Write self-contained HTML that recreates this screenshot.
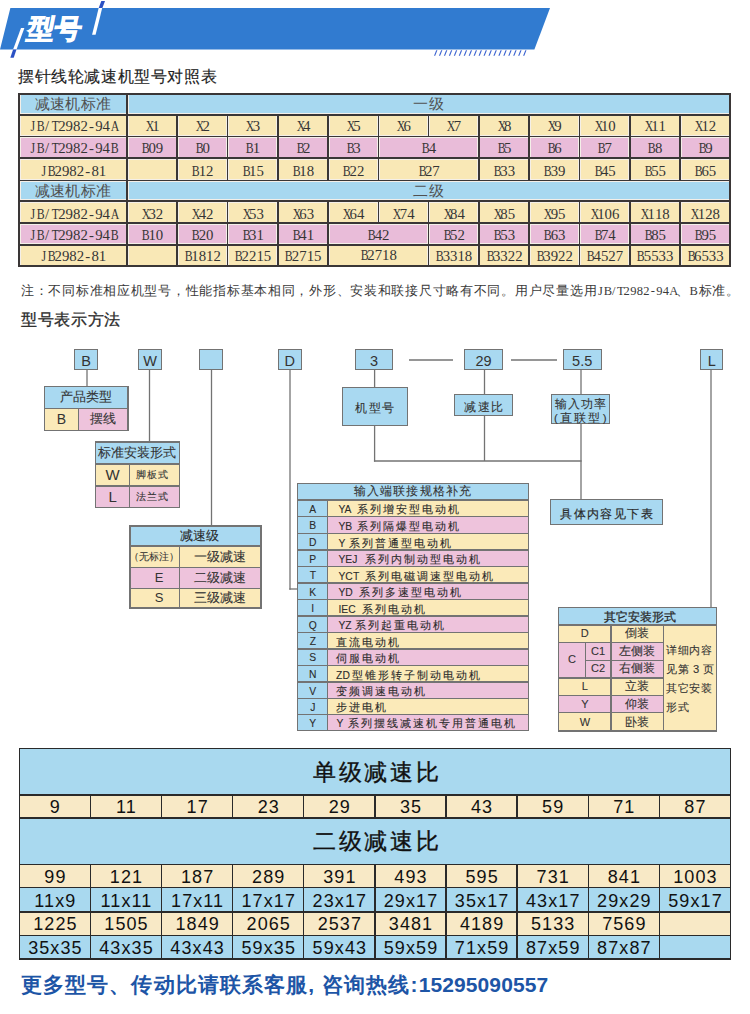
<!DOCTYPE html>
<html><head><meta charset="utf-8"><style>
html,body{margin:0;padding:0;background:#fff}
body{width:750px;height:1014px;position:relative;overflow:hidden;font-family:"Liberation Sans",sans-serif}
.t{position:absolute;text-align:center;white-space:nowrap}
.t i{font-style:normal;display:inline-block;width:7.4px;text-align:center}
.t i.w{transform:scaleX(.8)}
</style></head><body>
<svg style="position:absolute;left:0;top:0" width="750" height="70" viewBox="0 0 750 70">
<polygon points="10.4,8 550,8 534.4,49.6 0,49.6" fill="#317bd0"/>
<polygon points="21,28 24.4,28 16.5,49.6 13.1,49.6" fill="#ffffff"/>
<polygon points="13.1,49.6 16.5,49.6 13.7,57.7 10.3,57.7" fill="#2b51c4"/>
<polygon points="101.3,1 105,1 102.4,8 98.7,8" fill="#2b51c4"/>
<polygon points="98.7,8 102.2,8 95.6,34.7 92.1,34.7" fill="#ffffff"/>

<polygon points="436.20,50.3 437.40,50.3 435.20,55.8 434.00,55.8" fill="#3a62d0"/><polygon points="441.15,50.3 442.35,50.3 440.15,55.8 438.95,55.8" fill="#3a62d0"/><polygon points="446.10,50.3 447.30,50.3 445.10,55.8 443.90,55.8" fill="#3a62d0"/><polygon points="451.05,50.3 452.25,50.3 450.05,55.8 448.85,55.8" fill="#3a62d0"/><polygon points="456.00,50.3 457.20,50.3 455.00,55.8 453.80,55.8" fill="#3a62d0"/><polygon points="460.95,50.3 462.15,50.3 459.95,55.8 458.75,55.8" fill="#3a62d0"/><polygon points="465.90,50.3 467.10,50.3 464.90,55.8 463.70,55.8" fill="#3a62d0"/><polygon points="470.85,50.3 472.05,50.3 469.85,55.8 468.65,55.8" fill="#3a62d0"/><polygon points="475.80,50.3 477.00,50.3 474.80,55.8 473.60,55.8" fill="#3a62d0"/><polygon points="480.75,50.3 481.95,50.3 479.75,55.8 478.55,55.8" fill="#3a62d0"/><polygon points="485.70,50.3 486.90,50.3 484.70,55.8 483.50,55.8" fill="#3a62d0"/><polygon points="490.65,50.3 491.85,50.3 489.65,55.8 488.45,55.8" fill="#3a62d0"/><polygon points="495.60,50.3 496.80,50.3 494.60,55.8 493.40,55.8" fill="#3a62d0"/><polygon points="500.55,50.3 501.75,50.3 499.55,55.8 498.35,55.8" fill="#3a62d0"/><polygon points="505.50,50.3 506.70,50.3 504.50,55.8 503.30,55.8" fill="#3a62d0"/><polygon points="510.45,50.3 511.65,50.3 509.45,55.8 508.25,55.8" fill="#3a62d0"/><polygon points="515.40,50.3 516.60,50.3 514.40,55.8 513.20,55.8" fill="#3a62d0"/><polygon points="520.35,50.3 521.55,50.3 519.35,55.8 518.15,55.8" fill="#3a62d0"/><polygon points="525.30,50.3 526.50,50.3 524.30,55.8 523.10,55.8" fill="#3a62d0"/>
</svg>
<div class="t" style="left:24px;top:12px;height:34px;line-height:34px;font-size:27px;font-weight:bold;color:#fff;transform:skewX(-11deg);transform-origin:0 100%;-webkit-text-stroke:1px #fff">型号</div>
<div class="t" style="left:18px;top:64px;height:24px;line-height:24px;font-size:16.4px;color:#222;-webkit-text-stroke:0.15px #222;letter-spacing:0.6px">摆针线轮减速机型号对照表</div>
<div style="position:absolute;left:18.00px;top:92.90px;width:713.30px;height:174.30px;background:#3a3636"></div>
<div style="position:absolute;left:19.80px;top:94.70px;width:106.40px;height:19.30px;background:#f4efe8"></div>
<div style="position:absolute;left:20.50px;top:95.40px;width:105.00px;height:17.90px;background:#a7d8f0"></div>
<div class="t" style="left:19.00px;top:94.40px;width:108.00px;height:20.90px;line-height:20.90px;font-size:14.5px;color:#505050;letter-spacing:0.3px">减速机标准</div>
<div style="position:absolute;left:127.80px;top:94.70px;width:601.70px;height:19.30px;background:#f4efe8"></div>
<div style="position:absolute;left:128.50px;top:95.40px;width:600.30px;height:17.90px;background:#a7d8f0"></div>
<div class="t" style="left:127.00px;top:94.40px;width:603.30px;height:20.90px;line-height:20.90px;font-size:14.5px;color:#505050;letter-spacing:0.3px">一级</div>
<div style="position:absolute;left:19.80px;top:115.60px;width:106.40px;height:20.00px;background:#f4efe8"></div>
<div style="position:absolute;left:20.50px;top:116.30px;width:105.00px;height:18.60px;background:#f9e8b6"></div>
<div class="t" style="left:19.00px;top:116.30px;width:108.00px;height:21.60px;line-height:21.60px;font-family:'Liberation Serif',serif;font-size:14.8px;color:#353535"><i class=w>J</i><i class=w>B</i><i>/</i><i class=w>T</i><i>2</i><i>9</i><i>8</i><i>2</i><i>-</i><i>9</i><i>4</i><i class=w>A</i></div>
<div style="position:absolute;left:127.80px;top:115.60px;width:48.67px;height:20.00px;background:#f4efe8"></div>
<div style="position:absolute;left:128.50px;top:116.30px;width:47.28px;height:18.60px;background:#f9e8b6"></div>
<div class="t" style="left:127.00px;top:116.30px;width:50.28px;height:21.60px;line-height:21.60px;font-family:'Liberation Serif',serif;font-size:14.8px;color:#353535"><i class=w>X</i><i>1</i></div>
<div style="position:absolute;left:178.08px;top:115.60px;width:48.67px;height:20.00px;background:#f4efe8"></div>
<div style="position:absolute;left:178.78px;top:116.30px;width:47.28px;height:18.60px;background:#f9e8b6"></div>
<div class="t" style="left:177.28px;top:116.30px;width:50.28px;height:21.60px;line-height:21.60px;font-family:'Liberation Serif',serif;font-size:14.8px;color:#353535"><i class=w>X</i><i>2</i></div>
<div style="position:absolute;left:228.35px;top:115.60px;width:48.67px;height:20.00px;background:#f4efe8"></div>
<div style="position:absolute;left:229.05px;top:116.30px;width:47.27px;height:18.60px;background:#f9e8b6"></div>
<div class="t" style="left:227.55px;top:116.30px;width:50.27px;height:21.60px;line-height:21.60px;font-family:'Liberation Serif',serif;font-size:14.8px;color:#353535"><i class=w>X</i><i>3</i></div>
<div style="position:absolute;left:278.62px;top:115.60px;width:48.68px;height:20.00px;background:#f4efe8"></div>
<div style="position:absolute;left:279.32px;top:116.30px;width:47.28px;height:18.60px;background:#f9e8b6"></div>
<div class="t" style="left:277.82px;top:116.30px;width:50.28px;height:21.60px;line-height:21.60px;font-family:'Liberation Serif',serif;font-size:14.8px;color:#353535"><i class=w>X</i><i>4</i></div>
<div style="position:absolute;left:328.90px;top:115.60px;width:48.67px;height:20.00px;background:#f4efe8"></div>
<div style="position:absolute;left:329.60px;top:116.30px;width:47.27px;height:18.60px;background:#f9e8b6"></div>
<div class="t" style="left:328.10px;top:116.30px;width:50.27px;height:21.60px;line-height:21.60px;font-family:'Liberation Serif',serif;font-size:14.8px;color:#353535"><i class=w>X</i><i>5</i></div>
<div style="position:absolute;left:379.18px;top:115.60px;width:48.67px;height:20.00px;background:#f4efe8"></div>
<div style="position:absolute;left:379.88px;top:116.30px;width:47.27px;height:18.60px;background:#f9e8b6"></div>
<div class="t" style="left:378.38px;top:116.30px;width:50.27px;height:21.60px;line-height:21.60px;font-family:'Liberation Serif',serif;font-size:14.8px;color:#353535"><i class=w>X</i><i>6</i></div>
<div style="position:absolute;left:429.45px;top:115.60px;width:48.68px;height:20.00px;background:#f4efe8"></div>
<div style="position:absolute;left:430.15px;top:116.30px;width:47.28px;height:18.60px;background:#f9e8b6"></div>
<div class="t" style="left:428.65px;top:116.30px;width:50.28px;height:21.60px;line-height:21.60px;font-family:'Liberation Serif',serif;font-size:14.8px;color:#353535"><i class=w>X</i><i>7</i></div>
<div style="position:absolute;left:479.73px;top:115.60px;width:48.68px;height:20.00px;background:#f4efe8"></div>
<div style="position:absolute;left:480.43px;top:116.30px;width:47.28px;height:18.60px;background:#f9e8b6"></div>
<div class="t" style="left:478.93px;top:116.30px;width:50.28px;height:21.60px;line-height:21.60px;font-family:'Liberation Serif',serif;font-size:14.8px;color:#353535"><i class=w>X</i><i>8</i></div>
<div style="position:absolute;left:530.00px;top:115.60px;width:48.67px;height:20.00px;background:#f4efe8"></div>
<div style="position:absolute;left:530.70px;top:116.30px;width:47.27px;height:18.60px;background:#f9e8b6"></div>
<div class="t" style="left:529.20px;top:116.30px;width:50.27px;height:21.60px;line-height:21.60px;font-family:'Liberation Serif',serif;font-size:14.8px;color:#353535"><i class=w>X</i><i>9</i></div>
<div style="position:absolute;left:580.27px;top:115.60px;width:48.68px;height:20.00px;background:#f4efe8"></div>
<div style="position:absolute;left:580.97px;top:116.30px;width:47.28px;height:18.60px;background:#f9e8b6"></div>
<div class="t" style="left:579.47px;top:116.30px;width:50.28px;height:21.60px;line-height:21.60px;font-family:'Liberation Serif',serif;font-size:14.8px;color:#353535"><i class=w>X</i><i>1</i><i>0</i></div>
<div style="position:absolute;left:630.55px;top:115.60px;width:48.68px;height:20.00px;background:#f4efe8"></div>
<div style="position:absolute;left:631.25px;top:116.30px;width:47.27px;height:18.60px;background:#f9e8b6"></div>
<div class="t" style="left:629.75px;top:116.30px;width:50.27px;height:21.60px;line-height:21.60px;font-family:'Liberation Serif',serif;font-size:14.8px;color:#353535"><i class=w>X</i><i>1</i><i>1</i></div>
<div style="position:absolute;left:680.82px;top:115.60px;width:48.68px;height:20.00px;background:#f4efe8"></div>
<div style="position:absolute;left:681.52px;top:116.30px;width:47.27px;height:18.60px;background:#f9e8b6"></div>
<div class="t" style="left:680.02px;top:116.30px;width:50.27px;height:21.60px;line-height:21.60px;font-family:'Liberation Serif',serif;font-size:14.8px;color:#353535"><i class=w>X</i><i>1</i><i>2</i></div>
<div style="position:absolute;left:19.80px;top:137.20px;width:106.40px;height:20.20px;background:#f4efe8"></div>
<div style="position:absolute;left:20.50px;top:137.90px;width:105.00px;height:18.80px;background:#e9bcd9"></div>
<div class="t" style="left:19.00px;top:137.90px;width:108.00px;height:21.80px;line-height:21.80px;font-family:'Liberation Serif',serif;font-size:14.8px;color:#353535"><i class=w>J</i><i class=w>B</i><i>/</i><i class=w>T</i><i>2</i><i>9</i><i>8</i><i>2</i><i>-</i><i>9</i><i>4</i><i class=w>B</i></div>
<div style="position:absolute;left:127.80px;top:137.20px;width:48.67px;height:20.20px;background:#f4efe8"></div>
<div style="position:absolute;left:128.50px;top:137.90px;width:47.28px;height:18.80px;background:#e9bcd9"></div>
<div class="t" style="left:127.00px;top:137.90px;width:50.28px;height:21.80px;line-height:21.80px;font-family:'Liberation Serif',serif;font-size:14.8px;color:#353535"><i class=w>B</i><i>0</i><i>9</i></div>
<div style="position:absolute;left:178.08px;top:137.20px;width:48.67px;height:20.20px;background:#f4efe8"></div>
<div style="position:absolute;left:178.78px;top:137.90px;width:47.28px;height:18.80px;background:#e9bcd9"></div>
<div class="t" style="left:177.28px;top:137.90px;width:50.28px;height:21.80px;line-height:21.80px;font-family:'Liberation Serif',serif;font-size:14.8px;color:#353535"><i class=w>B</i><i>0</i></div>
<div style="position:absolute;left:228.35px;top:137.20px;width:48.67px;height:20.20px;background:#f4efe8"></div>
<div style="position:absolute;left:229.05px;top:137.90px;width:47.27px;height:18.80px;background:#e9bcd9"></div>
<div class="t" style="left:227.55px;top:137.90px;width:50.27px;height:21.80px;line-height:21.80px;font-family:'Liberation Serif',serif;font-size:14.8px;color:#353535"><i class=w>B</i><i>1</i></div>
<div style="position:absolute;left:278.62px;top:137.20px;width:48.68px;height:20.20px;background:#f4efe8"></div>
<div style="position:absolute;left:279.32px;top:137.90px;width:47.28px;height:18.80px;background:#e9bcd9"></div>
<div class="t" style="left:277.82px;top:137.90px;width:50.28px;height:21.80px;line-height:21.80px;font-family:'Liberation Serif',serif;font-size:14.8px;color:#353535"><i class=w>B</i><i>2</i></div>
<div style="position:absolute;left:328.90px;top:137.20px;width:48.67px;height:20.20px;background:#f4efe8"></div>
<div style="position:absolute;left:329.60px;top:137.90px;width:47.27px;height:18.80px;background:#e9bcd9"></div>
<div class="t" style="left:328.10px;top:137.90px;width:50.27px;height:21.80px;line-height:21.80px;font-family:'Liberation Serif',serif;font-size:14.8px;color:#353535"><i class=w>B</i><i>3</i></div>
<div style="position:absolute;left:379.18px;top:137.20px;width:98.95px;height:20.20px;background:#f4efe8"></div>
<div style="position:absolute;left:379.88px;top:137.90px;width:97.55px;height:18.80px;background:#e9bcd9"></div>
<div class="t" style="left:378.38px;top:137.90px;width:100.55px;height:21.80px;line-height:21.80px;font-family:'Liberation Serif',serif;font-size:14.8px;color:#353535"><i class=w>B</i><i>4</i></div>
<div style="position:absolute;left:479.73px;top:137.20px;width:48.68px;height:20.20px;background:#f4efe8"></div>
<div style="position:absolute;left:480.43px;top:137.90px;width:47.28px;height:18.80px;background:#e9bcd9"></div>
<div class="t" style="left:478.93px;top:137.90px;width:50.28px;height:21.80px;line-height:21.80px;font-family:'Liberation Serif',serif;font-size:14.8px;color:#353535"><i class=w>B</i><i>5</i></div>
<div style="position:absolute;left:530.00px;top:137.20px;width:48.67px;height:20.20px;background:#f4efe8"></div>
<div style="position:absolute;left:530.70px;top:137.90px;width:47.27px;height:18.80px;background:#e9bcd9"></div>
<div class="t" style="left:529.20px;top:137.90px;width:50.27px;height:21.80px;line-height:21.80px;font-family:'Liberation Serif',serif;font-size:14.8px;color:#353535"><i class=w>B</i><i>6</i></div>
<div style="position:absolute;left:580.27px;top:137.20px;width:48.68px;height:20.20px;background:#f4efe8"></div>
<div style="position:absolute;left:580.97px;top:137.90px;width:47.28px;height:18.80px;background:#e9bcd9"></div>
<div class="t" style="left:579.47px;top:137.90px;width:50.28px;height:21.80px;line-height:21.80px;font-family:'Liberation Serif',serif;font-size:14.8px;color:#353535"><i class=w>B</i><i>7</i></div>
<div style="position:absolute;left:630.55px;top:137.20px;width:48.68px;height:20.20px;background:#f4efe8"></div>
<div style="position:absolute;left:631.25px;top:137.90px;width:47.27px;height:18.80px;background:#e9bcd9"></div>
<div class="t" style="left:629.75px;top:137.90px;width:50.27px;height:21.80px;line-height:21.80px;font-family:'Liberation Serif',serif;font-size:14.8px;color:#353535"><i class=w>B</i><i>8</i></div>
<div style="position:absolute;left:680.82px;top:137.20px;width:48.68px;height:20.20px;background:#f4efe8"></div>
<div style="position:absolute;left:681.52px;top:137.90px;width:47.27px;height:18.80px;background:#e9bcd9"></div>
<div class="t" style="left:680.02px;top:137.90px;width:50.27px;height:21.80px;line-height:21.80px;font-family:'Liberation Serif',serif;font-size:14.8px;color:#353535"><i class=w>B</i><i>9</i></div>
<div style="position:absolute;left:19.80px;top:159.00px;width:106.40px;height:20.60px;background:#f4efe8"></div>
<div style="position:absolute;left:20.50px;top:159.70px;width:105.00px;height:19.20px;background:#f9e8b6"></div>
<div class="t" style="left:19.00px;top:159.70px;width:108.00px;height:22.20px;line-height:22.20px;font-family:'Liberation Serif',serif;font-size:14.8px;color:#353535"><i class=w>J</i><i class=w>B</i><i>2</i><i>9</i><i>8</i><i>2</i><i>-</i><i>8</i><i>1</i></div>
<div style="position:absolute;left:127.80px;top:159.00px;width:48.67px;height:20.60px;background:#f4efe8"></div>
<div style="position:absolute;left:128.50px;top:159.70px;width:47.28px;height:19.20px;background:#f9e8b6"></div>
<div style="position:absolute;left:178.08px;top:159.00px;width:48.67px;height:20.60px;background:#f4efe8"></div>
<div style="position:absolute;left:178.78px;top:159.70px;width:47.28px;height:19.20px;background:#f9e8b6"></div>
<div class="t" style="left:177.28px;top:159.70px;width:50.28px;height:22.20px;line-height:22.20px;font-family:'Liberation Serif',serif;font-size:14.8px;color:#353535"><i class=w>B</i><i>1</i><i>2</i></div>
<div style="position:absolute;left:228.35px;top:159.00px;width:48.67px;height:20.60px;background:#f4efe8"></div>
<div style="position:absolute;left:229.05px;top:159.70px;width:47.27px;height:19.20px;background:#f9e8b6"></div>
<div class="t" style="left:227.55px;top:159.70px;width:50.27px;height:22.20px;line-height:22.20px;font-family:'Liberation Serif',serif;font-size:14.8px;color:#353535"><i class=w>B</i><i>1</i><i>5</i></div>
<div style="position:absolute;left:278.62px;top:159.00px;width:48.68px;height:20.60px;background:#f4efe8"></div>
<div style="position:absolute;left:279.32px;top:159.70px;width:47.28px;height:19.20px;background:#f9e8b6"></div>
<div class="t" style="left:277.82px;top:159.70px;width:50.28px;height:22.20px;line-height:22.20px;font-family:'Liberation Serif',serif;font-size:14.8px;color:#353535"><i class=w>B</i><i>1</i><i>8</i></div>
<div style="position:absolute;left:328.90px;top:159.00px;width:48.67px;height:20.60px;background:#f4efe8"></div>
<div style="position:absolute;left:329.60px;top:159.70px;width:47.27px;height:19.20px;background:#f9e8b6"></div>
<div class="t" style="left:328.10px;top:159.70px;width:50.27px;height:22.20px;line-height:22.20px;font-family:'Liberation Serif',serif;font-size:14.8px;color:#353535"><i class=w>B</i><i>2</i><i>2</i></div>
<div style="position:absolute;left:379.18px;top:159.00px;width:98.95px;height:20.60px;background:#f4efe8"></div>
<div style="position:absolute;left:379.88px;top:159.70px;width:97.55px;height:19.20px;background:#f9e8b6"></div>
<div class="t" style="left:378.38px;top:159.70px;width:100.55px;height:22.20px;line-height:22.20px;font-family:'Liberation Serif',serif;font-size:14.8px;color:#353535"><i class=w>B</i><i>2</i><i>7</i></div>
<div style="position:absolute;left:479.73px;top:159.00px;width:48.68px;height:20.60px;background:#f4efe8"></div>
<div style="position:absolute;left:480.43px;top:159.70px;width:47.28px;height:19.20px;background:#f9e8b6"></div>
<div class="t" style="left:478.93px;top:159.70px;width:50.28px;height:22.20px;line-height:22.20px;font-family:'Liberation Serif',serif;font-size:14.8px;color:#353535"><i class=w>B</i><i>3</i><i>3</i></div>
<div style="position:absolute;left:530.00px;top:159.00px;width:48.67px;height:20.60px;background:#f4efe8"></div>
<div style="position:absolute;left:530.70px;top:159.70px;width:47.27px;height:19.20px;background:#f9e8b6"></div>
<div class="t" style="left:529.20px;top:159.70px;width:50.27px;height:22.20px;line-height:22.20px;font-family:'Liberation Serif',serif;font-size:14.8px;color:#353535"><i class=w>B</i><i>3</i><i>9</i></div>
<div style="position:absolute;left:580.27px;top:159.00px;width:48.68px;height:20.60px;background:#f4efe8"></div>
<div style="position:absolute;left:580.97px;top:159.70px;width:47.28px;height:19.20px;background:#f9e8b6"></div>
<div class="t" style="left:579.47px;top:159.70px;width:50.28px;height:22.20px;line-height:22.20px;font-family:'Liberation Serif',serif;font-size:14.8px;color:#353535"><i class=w>B</i><i>4</i><i>5</i></div>
<div style="position:absolute;left:630.55px;top:159.00px;width:48.68px;height:20.60px;background:#f4efe8"></div>
<div style="position:absolute;left:631.25px;top:159.70px;width:47.27px;height:19.20px;background:#f9e8b6"></div>
<div class="t" style="left:629.75px;top:159.70px;width:50.27px;height:22.20px;line-height:22.20px;font-family:'Liberation Serif',serif;font-size:14.8px;color:#353535"><i class=w>B</i><i>5</i><i>5</i></div>
<div style="position:absolute;left:680.82px;top:159.00px;width:48.68px;height:20.60px;background:#f4efe8"></div>
<div style="position:absolute;left:681.52px;top:159.70px;width:47.27px;height:19.20px;background:#f9e8b6"></div>
<div class="t" style="left:680.02px;top:159.70px;width:50.27px;height:22.20px;line-height:22.20px;font-family:'Liberation Serif',serif;font-size:14.8px;color:#353535"><i class=w>B</i><i>6</i><i>5</i></div>
<div style="position:absolute;left:19.80px;top:181.20px;width:106.40px;height:19.00px;background:#f4efe8"></div>
<div style="position:absolute;left:20.50px;top:181.90px;width:105.00px;height:17.60px;background:#a7d8f0"></div>
<div class="t" style="left:19.00px;top:180.90px;width:108.00px;height:20.60px;line-height:20.60px;font-size:14.5px;color:#505050;letter-spacing:0.3px">减速机标准</div>
<div style="position:absolute;left:127.80px;top:181.20px;width:601.70px;height:19.00px;background:#f4efe8"></div>
<div style="position:absolute;left:128.50px;top:181.90px;width:600.30px;height:17.60px;background:#a7d8f0"></div>
<div class="t" style="left:127.00px;top:180.90px;width:603.30px;height:20.60px;line-height:20.60px;font-size:14.5px;color:#505050;letter-spacing:0.3px">二级</div>
<div style="position:absolute;left:19.80px;top:201.80px;width:106.40px;height:20.40px;background:#f4efe8"></div>
<div style="position:absolute;left:20.50px;top:202.50px;width:105.00px;height:19.00px;background:#f9e8b6"></div>
<div class="t" style="left:19.00px;top:202.50px;width:108.00px;height:22.00px;line-height:22.00px;font-family:'Liberation Serif',serif;font-size:14.8px;color:#353535"><i class=w>J</i><i class=w>B</i><i>/</i><i class=w>T</i><i>2</i><i>9</i><i>8</i><i>2</i><i>-</i><i>9</i><i>4</i><i class=w>A</i></div>
<div style="position:absolute;left:127.80px;top:201.80px;width:48.67px;height:20.40px;background:#f4efe8"></div>
<div style="position:absolute;left:128.50px;top:202.50px;width:47.28px;height:19.00px;background:#f9e8b6"></div>
<div class="t" style="left:127.00px;top:202.50px;width:50.28px;height:22.00px;line-height:22.00px;font-family:'Liberation Serif',serif;font-size:14.8px;color:#353535"><i class=w>X</i><i>3</i><i>2</i></div>
<div style="position:absolute;left:178.08px;top:201.80px;width:48.67px;height:20.40px;background:#f4efe8"></div>
<div style="position:absolute;left:178.78px;top:202.50px;width:47.28px;height:19.00px;background:#f9e8b6"></div>
<div class="t" style="left:177.28px;top:202.50px;width:50.28px;height:22.00px;line-height:22.00px;font-family:'Liberation Serif',serif;font-size:14.8px;color:#353535"><i class=w>X</i><i>4</i><i>2</i></div>
<div style="position:absolute;left:228.35px;top:201.80px;width:48.67px;height:20.40px;background:#f4efe8"></div>
<div style="position:absolute;left:229.05px;top:202.50px;width:47.27px;height:19.00px;background:#f9e8b6"></div>
<div class="t" style="left:227.55px;top:202.50px;width:50.27px;height:22.00px;line-height:22.00px;font-family:'Liberation Serif',serif;font-size:14.8px;color:#353535"><i class=w>X</i><i>5</i><i>3</i></div>
<div style="position:absolute;left:278.62px;top:201.80px;width:48.68px;height:20.40px;background:#f4efe8"></div>
<div style="position:absolute;left:279.32px;top:202.50px;width:47.28px;height:19.00px;background:#f9e8b6"></div>
<div class="t" style="left:277.82px;top:202.50px;width:50.28px;height:22.00px;line-height:22.00px;font-family:'Liberation Serif',serif;font-size:14.8px;color:#353535"><i class=w>X</i><i>6</i><i>3</i></div>
<div style="position:absolute;left:328.90px;top:201.80px;width:48.67px;height:20.40px;background:#f4efe8"></div>
<div style="position:absolute;left:329.60px;top:202.50px;width:47.27px;height:19.00px;background:#f9e8b6"></div>
<div class="t" style="left:328.10px;top:202.50px;width:50.27px;height:22.00px;line-height:22.00px;font-family:'Liberation Serif',serif;font-size:14.8px;color:#353535"><i class=w>X</i><i>6</i><i>4</i></div>
<div style="position:absolute;left:379.18px;top:201.80px;width:48.67px;height:20.40px;background:#f4efe8"></div>
<div style="position:absolute;left:379.88px;top:202.50px;width:47.27px;height:19.00px;background:#f9e8b6"></div>
<div class="t" style="left:378.38px;top:202.50px;width:50.27px;height:22.00px;line-height:22.00px;font-family:'Liberation Serif',serif;font-size:14.8px;color:#353535"><i class=w>X</i><i>7</i><i>4</i></div>
<div style="position:absolute;left:429.45px;top:201.80px;width:48.68px;height:20.40px;background:#f4efe8"></div>
<div style="position:absolute;left:430.15px;top:202.50px;width:47.28px;height:19.00px;background:#f9e8b6"></div>
<div class="t" style="left:428.65px;top:202.50px;width:50.28px;height:22.00px;line-height:22.00px;font-family:'Liberation Serif',serif;font-size:14.8px;color:#353535"><i class=w>X</i><i>8</i><i>4</i></div>
<div style="position:absolute;left:479.73px;top:201.80px;width:48.68px;height:20.40px;background:#f4efe8"></div>
<div style="position:absolute;left:480.43px;top:202.50px;width:47.28px;height:19.00px;background:#f9e8b6"></div>
<div class="t" style="left:478.93px;top:202.50px;width:50.28px;height:22.00px;line-height:22.00px;font-family:'Liberation Serif',serif;font-size:14.8px;color:#353535"><i class=w>X</i><i>8</i><i>5</i></div>
<div style="position:absolute;left:530.00px;top:201.80px;width:48.67px;height:20.40px;background:#f4efe8"></div>
<div style="position:absolute;left:530.70px;top:202.50px;width:47.27px;height:19.00px;background:#f9e8b6"></div>
<div class="t" style="left:529.20px;top:202.50px;width:50.27px;height:22.00px;line-height:22.00px;font-family:'Liberation Serif',serif;font-size:14.8px;color:#353535"><i class=w>X</i><i>9</i><i>5</i></div>
<div style="position:absolute;left:580.27px;top:201.80px;width:48.68px;height:20.40px;background:#f4efe8"></div>
<div style="position:absolute;left:580.97px;top:202.50px;width:47.28px;height:19.00px;background:#f9e8b6"></div>
<div class="t" style="left:579.47px;top:202.50px;width:50.28px;height:22.00px;line-height:22.00px;font-family:'Liberation Serif',serif;font-size:14.8px;color:#353535"><i class=w>X</i><i>1</i><i>0</i><i>6</i></div>
<div style="position:absolute;left:630.55px;top:201.80px;width:48.68px;height:20.40px;background:#f4efe8"></div>
<div style="position:absolute;left:631.25px;top:202.50px;width:47.27px;height:19.00px;background:#f9e8b6"></div>
<div class="t" style="left:629.75px;top:202.50px;width:50.27px;height:22.00px;line-height:22.00px;font-family:'Liberation Serif',serif;font-size:14.8px;color:#353535"><i class=w>X</i><i>1</i><i>1</i><i>8</i></div>
<div style="position:absolute;left:680.82px;top:201.80px;width:48.68px;height:20.40px;background:#f4efe8"></div>
<div style="position:absolute;left:681.52px;top:202.50px;width:47.27px;height:19.00px;background:#f9e8b6"></div>
<div class="t" style="left:680.02px;top:202.50px;width:50.27px;height:22.00px;line-height:22.00px;font-family:'Liberation Serif',serif;font-size:14.8px;color:#353535"><i class=w>X</i><i>1</i><i>2</i><i>8</i></div>
<div style="position:absolute;left:19.80px;top:223.80px;width:106.40px;height:20.20px;background:#f4efe8"></div>
<div style="position:absolute;left:20.50px;top:224.50px;width:105.00px;height:18.80px;background:#e9bcd9"></div>
<div class="t" style="left:19.00px;top:224.50px;width:108.00px;height:21.80px;line-height:21.80px;font-family:'Liberation Serif',serif;font-size:14.8px;color:#353535"><i class=w>J</i><i class=w>B</i><i>/</i><i class=w>T</i><i>2</i><i>9</i><i>8</i><i>2</i><i>-</i><i>9</i><i>4</i><i class=w>B</i></div>
<div style="position:absolute;left:127.80px;top:223.80px;width:48.67px;height:20.20px;background:#f4efe8"></div>
<div style="position:absolute;left:128.50px;top:224.50px;width:47.28px;height:18.80px;background:#e9bcd9"></div>
<div class="t" style="left:127.00px;top:224.50px;width:50.28px;height:21.80px;line-height:21.80px;font-family:'Liberation Serif',serif;font-size:14.8px;color:#353535"><i class=w>B</i><i>1</i><i>0</i></div>
<div style="position:absolute;left:178.08px;top:223.80px;width:48.67px;height:20.20px;background:#f4efe8"></div>
<div style="position:absolute;left:178.78px;top:224.50px;width:47.28px;height:18.80px;background:#e9bcd9"></div>
<div class="t" style="left:177.28px;top:224.50px;width:50.28px;height:21.80px;line-height:21.80px;font-family:'Liberation Serif',serif;font-size:14.8px;color:#353535"><i class=w>B</i><i>2</i><i>0</i></div>
<div style="position:absolute;left:228.35px;top:223.80px;width:48.67px;height:20.20px;background:#f4efe8"></div>
<div style="position:absolute;left:229.05px;top:224.50px;width:47.27px;height:18.80px;background:#e9bcd9"></div>
<div class="t" style="left:227.55px;top:224.50px;width:50.27px;height:21.80px;line-height:21.80px;font-family:'Liberation Serif',serif;font-size:14.8px;color:#353535"><i class=w>B</i><i>3</i><i>1</i></div>
<div style="position:absolute;left:278.62px;top:223.80px;width:48.68px;height:20.20px;background:#f4efe8"></div>
<div style="position:absolute;left:279.32px;top:224.50px;width:47.28px;height:18.80px;background:#e9bcd9"></div>
<div class="t" style="left:277.82px;top:224.50px;width:50.28px;height:21.80px;line-height:21.80px;font-family:'Liberation Serif',serif;font-size:14.8px;color:#353535"><i class=w>B</i><i>4</i><i>1</i></div>
<div style="position:absolute;left:328.90px;top:223.80px;width:98.95px;height:20.20px;background:#f4efe8"></div>
<div style="position:absolute;left:329.60px;top:224.50px;width:97.55px;height:18.80px;background:#e9bcd9"></div>
<div class="t" style="left:328.10px;top:224.50px;width:100.55px;height:21.80px;line-height:21.80px;font-family:'Liberation Serif',serif;font-size:14.8px;color:#353535"><i class=w>B</i><i>4</i><i>2</i></div>
<div style="position:absolute;left:429.45px;top:223.80px;width:48.68px;height:20.20px;background:#f4efe8"></div>
<div style="position:absolute;left:430.15px;top:224.50px;width:47.28px;height:18.80px;background:#e9bcd9"></div>
<div class="t" style="left:428.65px;top:224.50px;width:50.28px;height:21.80px;line-height:21.80px;font-family:'Liberation Serif',serif;font-size:14.8px;color:#353535"><i class=w>B</i><i>5</i><i>2</i></div>
<div style="position:absolute;left:479.73px;top:223.80px;width:48.68px;height:20.20px;background:#f4efe8"></div>
<div style="position:absolute;left:480.43px;top:224.50px;width:47.28px;height:18.80px;background:#e9bcd9"></div>
<div class="t" style="left:478.93px;top:224.50px;width:50.28px;height:21.80px;line-height:21.80px;font-family:'Liberation Serif',serif;font-size:14.8px;color:#353535"><i class=w>B</i><i>5</i><i>3</i></div>
<div style="position:absolute;left:530.00px;top:223.80px;width:48.67px;height:20.20px;background:#f4efe8"></div>
<div style="position:absolute;left:530.70px;top:224.50px;width:47.27px;height:18.80px;background:#e9bcd9"></div>
<div class="t" style="left:529.20px;top:224.50px;width:50.27px;height:21.80px;line-height:21.80px;font-family:'Liberation Serif',serif;font-size:14.8px;color:#353535"><i class=w>B</i><i>6</i><i>3</i></div>
<div style="position:absolute;left:580.27px;top:223.80px;width:48.68px;height:20.20px;background:#f4efe8"></div>
<div style="position:absolute;left:580.97px;top:224.50px;width:47.28px;height:18.80px;background:#e9bcd9"></div>
<div class="t" style="left:579.47px;top:224.50px;width:50.28px;height:21.80px;line-height:21.80px;font-family:'Liberation Serif',serif;font-size:14.8px;color:#353535"><i class=w>B</i><i>7</i><i>4</i></div>
<div style="position:absolute;left:630.55px;top:223.80px;width:48.68px;height:20.20px;background:#f4efe8"></div>
<div style="position:absolute;left:631.25px;top:224.50px;width:47.27px;height:18.80px;background:#e9bcd9"></div>
<div class="t" style="left:629.75px;top:224.50px;width:50.27px;height:21.80px;line-height:21.80px;font-family:'Liberation Serif',serif;font-size:14.8px;color:#353535"><i class=w>B</i><i>8</i><i>5</i></div>
<div style="position:absolute;left:680.82px;top:223.80px;width:48.68px;height:20.20px;background:#f4efe8"></div>
<div style="position:absolute;left:681.52px;top:224.50px;width:47.27px;height:18.80px;background:#e9bcd9"></div>
<div class="t" style="left:680.02px;top:224.50px;width:50.27px;height:21.80px;line-height:21.80px;font-family:'Liberation Serif',serif;font-size:14.8px;color:#353535"><i class=w>B</i><i>9</i><i>5</i></div>
<div style="position:absolute;left:19.80px;top:245.60px;width:106.40px;height:19.80px;background:#f4efe8"></div>
<div style="position:absolute;left:20.50px;top:246.30px;width:105.00px;height:18.40px;background:#f9e8b6"></div>
<div class="t" style="left:19.00px;top:246.30px;width:108.00px;height:21.40px;line-height:21.40px;font-family:'Liberation Serif',serif;font-size:14.8px;color:#353535"><i class=w>J</i><i class=w>B</i><i>2</i><i>9</i><i>8</i><i>2</i><i>-</i><i>8</i><i>1</i></div>
<div style="position:absolute;left:127.80px;top:245.60px;width:48.67px;height:19.80px;background:#f4efe8"></div>
<div style="position:absolute;left:128.50px;top:246.30px;width:47.28px;height:18.40px;background:#f9e8b6"></div>
<div style="position:absolute;left:178.08px;top:245.60px;width:48.67px;height:19.80px;background:#f4efe8"></div>
<div style="position:absolute;left:178.78px;top:246.30px;width:47.28px;height:18.40px;background:#f9e8b6"></div>
<div class="t" style="left:177.28px;top:246.30px;width:50.28px;height:21.40px;line-height:21.40px;font-family:'Liberation Serif',serif;font-size:14.8px;color:#353535"><i class=w>B</i><i>1</i><i>8</i><i>1</i><i>2</i></div>
<div style="position:absolute;left:228.35px;top:245.60px;width:48.67px;height:19.80px;background:#f4efe8"></div>
<div style="position:absolute;left:229.05px;top:246.30px;width:47.27px;height:18.40px;background:#f9e8b6"></div>
<div class="t" style="left:227.55px;top:246.30px;width:50.27px;height:21.40px;line-height:21.40px;font-family:'Liberation Serif',serif;font-size:14.8px;color:#353535"><i class=w>B</i><i>2</i><i>2</i><i>1</i><i>5</i></div>
<div style="position:absolute;left:278.62px;top:245.60px;width:48.68px;height:19.80px;background:#f4efe8"></div>
<div style="position:absolute;left:279.32px;top:246.30px;width:47.28px;height:18.40px;background:#f9e8b6"></div>
<div class="t" style="left:277.82px;top:246.30px;width:50.28px;height:21.40px;line-height:21.40px;font-family:'Liberation Serif',serif;font-size:14.8px;color:#353535"><i class=w>B</i><i>2</i><i>7</i><i>1</i><i>5</i></div>
<div style="position:absolute;left:328.90px;top:245.60px;width:98.95px;height:19.80px;background:#f4efe8"></div>
<div style="position:absolute;left:329.60px;top:246.30px;width:97.55px;height:18.40px;background:#f9e8b6"></div>
<div class="t" style="left:328.10px;top:244.80px;width:100.55px;height:21.40px;line-height:21.40px;font-family:'Liberation Serif',serif;font-size:14.8px;color:#353535"><i class=w>B</i><i>2</i><i>7</i><i>1</i><i>8</i></div>
<div style="position:absolute;left:429.45px;top:245.60px;width:48.68px;height:19.80px;background:#f4efe8"></div>
<div style="position:absolute;left:430.15px;top:246.30px;width:47.28px;height:18.40px;background:#f9e8b6"></div>
<div class="t" style="left:428.65px;top:246.30px;width:50.28px;height:21.40px;line-height:21.40px;font-family:'Liberation Serif',serif;font-size:14.8px;color:#353535"><i class=w>B</i><i>3</i><i>3</i><i>1</i><i>8</i></div>
<div style="position:absolute;left:479.73px;top:245.60px;width:48.68px;height:19.80px;background:#f4efe8"></div>
<div style="position:absolute;left:480.43px;top:246.30px;width:47.28px;height:18.40px;background:#f9e8b6"></div>
<div class="t" style="left:478.93px;top:246.30px;width:50.28px;height:21.40px;line-height:21.40px;font-family:'Liberation Serif',serif;font-size:14.8px;color:#353535"><i class=w>B</i><i>3</i><i>3</i><i>2</i><i>2</i></div>
<div style="position:absolute;left:530.00px;top:245.60px;width:48.67px;height:19.80px;background:#f4efe8"></div>
<div style="position:absolute;left:530.70px;top:246.30px;width:47.27px;height:18.40px;background:#f9e8b6"></div>
<div class="t" style="left:529.20px;top:246.30px;width:50.27px;height:21.40px;line-height:21.40px;font-family:'Liberation Serif',serif;font-size:14.8px;color:#353535"><i class=w>B</i><i>3</i><i>9</i><i>2</i><i>2</i></div>
<div style="position:absolute;left:580.27px;top:245.60px;width:48.68px;height:19.80px;background:#f4efe8"></div>
<div style="position:absolute;left:580.97px;top:246.30px;width:47.28px;height:18.40px;background:#f9e8b6"></div>
<div class="t" style="left:579.47px;top:246.30px;width:50.28px;height:21.40px;line-height:21.40px;font-family:'Liberation Serif',serif;font-size:14.8px;color:#353535"><i class=w>B</i><i>4</i><i>5</i><i>2</i><i>7</i></div>
<div style="position:absolute;left:630.55px;top:245.60px;width:48.68px;height:19.80px;background:#f4efe8"></div>
<div style="position:absolute;left:631.25px;top:246.30px;width:47.27px;height:18.40px;background:#f9e8b6"></div>
<div class="t" style="left:629.75px;top:246.30px;width:50.27px;height:21.40px;line-height:21.40px;font-family:'Liberation Serif',serif;font-size:14.8px;color:#353535"><i class=w>B</i><i>5</i><i>5</i><i>3</i><i>3</i></div>
<div style="position:absolute;left:680.82px;top:245.60px;width:48.68px;height:19.80px;background:#f4efe8"></div>
<div style="position:absolute;left:681.52px;top:246.30px;width:47.27px;height:18.40px;background:#f9e8b6"></div>
<div class="t" style="left:680.02px;top:246.30px;width:50.27px;height:21.40px;line-height:21.40px;font-family:'Liberation Serif',serif;font-size:14.8px;color:#353535"><i class=w>B</i><i>6</i><i>5</i><i>3</i><i>3</i></div>
<div class="t" style="left:21px;top:281.5px;height:18px;line-height:18px;font-size:12.5px;color:#3a3a3a;letter-spacing:0.72px;font-family:'Liberation Serif',serif;text-align:left">注：不同标准相应机型号，性能指标基本相同，外形、安装和联接尺寸略有不同。用户尽量选用<b style="font-weight:normal;display:inline-block;width:6.56px;text-align:center;letter-spacing:0">J</b><b style="font-weight:normal;display:inline-block;width:6.56px;text-align:center;letter-spacing:0">B</b><b style="font-weight:normal;display:inline-block;width:6.56px;text-align:center;letter-spacing:0">/</b><b style="font-weight:normal;display:inline-block;width:6.56px;text-align:center;letter-spacing:0">T</b><b style="font-weight:normal;display:inline-block;width:6.56px;text-align:center;letter-spacing:0">2</b><b style="font-weight:normal;display:inline-block;width:6.56px;text-align:center;letter-spacing:0">9</b><b style="font-weight:normal;display:inline-block;width:6.56px;text-align:center;letter-spacing:0">8</b><b style="font-weight:normal;display:inline-block;width:6.56px;text-align:center;letter-spacing:0">2</b><b style="font-weight:normal;display:inline-block;width:6.56px;text-align:center;letter-spacing:0">-</b><b style="font-weight:normal;display:inline-block;width:6.56px;text-align:center;letter-spacing:0">9</b><b style="font-weight:normal;display:inline-block;width:6.56px;text-align:center;letter-spacing:0">4</b><b style="font-weight:normal;display:inline-block;width:6.56px;text-align:center;letter-spacing:0">A</b>、B标准。</div>
<div class="t" style="left:21px;top:309px;height:22px;line-height:22px;font-size:16px;color:#2a2a2a;-webkit-text-stroke:0.3px #2a2a2a;letter-spacing:0.65px">型号表示方法</div>
<svg style="position:absolute;left:0;top:0" width="750" height="1014"><g stroke="#737373" stroke-width="1.3" fill="none"><line x1="87" y1="370" x2="87" y2="387"/><line x1="149.5" y1="370" x2="149.5" y2="442"/><line x1="211.5" y1="370" x2="211.5" y2="526"/><line x1="290" y1="370" x2="290" y2="589.65"/><line x1="289.35" y1="589" x2="298" y2="589"/><line x1="374.6" y1="370" x2="374.6" y2="388"/><line x1="374.6" y1="425" x2="374.6" y2="461.65"/><line x1="373.95" y1="461" x2="581.65" y2="461"/><line x1="484.5" y1="369" x2="484.5" y2="395"/><line x1="484.5" y1="415" x2="484.5" y2="461"/><line x1="581" y1="369" x2="581" y2="395"/><line x1="581" y1="423" x2="581" y2="500"/><line x1="711" y1="370" x2="711" y2="608"/><line x1="409" y1="360" x2="453" y2="360"/><line x1="511" y1="360" x2="557" y2="360"/></g></svg>
<div style="position:absolute;left:74.35px;top:348.55px;width:23.30px;height:21.90px;background:#a9d9f1;border:1.3px solid #737373;box-sizing:border-box"></div>
<div class="t" style="left:75.00px;top:349.20px;width:22.00px;height:20.60px;line-height:20.60px;font-size:14.5px;color:#333;-webkit-text-stroke:0.1px #333;padding-top:2px;box-sizing:border-box;-webkit-text-stroke:0">B</div>
<div style="position:absolute;left:138.35px;top:348.55px;width:23.30px;height:21.90px;background:#a9d9f1;border:1.3px solid #737373;box-sizing:border-box"></div>
<div class="t" style="left:139.00px;top:349.20px;width:22.00px;height:20.60px;line-height:20.60px;font-size:14.5px;color:#333;-webkit-text-stroke:0.1px #333;padding-top:2px;box-sizing:border-box;-webkit-text-stroke:0">W</div>
<div style="position:absolute;left:199.35px;top:348.55px;width:23.30px;height:21.90px;background:#a9d9f1;border:1.3px solid #737373;box-sizing:border-box"></div>
<div style="position:absolute;left:277.95px;top:348.55px;width:23.70px;height:21.90px;background:#a9d9f1;border:1.3px solid #737373;box-sizing:border-box"></div>
<div class="t" style="left:278.60px;top:349.20px;width:22.40px;height:20.60px;line-height:20.60px;font-size:14.5px;color:#333;-webkit-text-stroke:0.1px #333;padding-top:2px;box-sizing:border-box;-webkit-text-stroke:0">D</div>
<div style="position:absolute;left:354.75px;top:348.55px;width:38.60px;height:21.90px;background:#a9d9f1;border:1.3px solid #737373;box-sizing:border-box"></div>
<div class="t" style="left:355.40px;top:349.20px;width:37.30px;height:20.60px;line-height:20.60px;font-size:14.5px;color:#333;-webkit-text-stroke:0.1px #333;padding-top:2px;box-sizing:border-box;-webkit-text-stroke:0">3</div>
<div style="position:absolute;left:464.35px;top:348.55px;width:38.30px;height:21.90px;background:#a9d9f1;border:1.3px solid #737373;box-sizing:border-box"></div>
<div class="t" style="left:465.00px;top:349.20px;width:37.00px;height:20.60px;line-height:20.60px;font-size:14.5px;color:#333;-webkit-text-stroke:0.1px #333;padding-top:2px;box-sizing:border-box;-webkit-text-stroke:0">29</div>
<div style="position:absolute;left:562.75px;top:348.55px;width:38.90px;height:21.90px;background:#a9d9f1;border:1.3px solid #737373;box-sizing:border-box"></div>
<div class="t" style="left:563.40px;top:349.20px;width:37.60px;height:20.60px;line-height:20.60px;font-size:14.5px;color:#333;-webkit-text-stroke:0.1px #333;padding-top:2px;box-sizing:border-box;-webkit-text-stroke:0">5.5</div>
<div style="position:absolute;left:700.05px;top:348.55px;width:23.30px;height:21.90px;background:#a9d9f1;border:1.3px solid #737373;box-sizing:border-box"></div>
<div class="t" style="left:700.70px;top:349.20px;width:22.00px;height:20.60px;line-height:20.60px;font-size:14.5px;color:#333;-webkit-text-stroke:0.1px #333;padding-top:2px;box-sizing:border-box;-webkit-text-stroke:0">L</div>
<div style="position:absolute;left:43.75px;top:385.95px;width:84.90px;height:45.00px;background:#737373"></div>
<div style="position:absolute;left:45.05px;top:387.25px;width:82.30px;height:20.40px;background:#a9d9f1"></div>
<div class="t" style="left:44.40px;top:386.60px;width:83.60px;height:21.70px;line-height:21.70px;font-size:12.5px;color:#333;-webkit-text-stroke:0.1px #333;">产品类型</div>
<div style="position:absolute;left:45.05px;top:408.95px;width:33.00px;height:20.70px;background:#fbeab9"></div>
<div class="t" style="left:44.40px;top:408.30px;width:34.30px;height:22.00px;line-height:22.00px;font-size:14px;color:#333;-webkit-text-stroke:0.1px #333;-webkit-text-stroke:0">B</div>
<div style="position:absolute;left:79.35px;top:408.95px;width:48.00px;height:20.70px;background:#eec3dc"></div>
<div class="t" style="left:78.70px;top:408.30px;width:49.30px;height:22.00px;line-height:22.00px;font-size:12.5px;color:#333;-webkit-text-stroke:0.1px #333;">摆线</div>
<div style="position:absolute;left:94.95px;top:441.35px;width:84.90px;height:67.10px;background:#737373"></div>
<div style="position:absolute;left:96.25px;top:442.65px;width:82.30px;height:20.80px;background:#a9d9f1"></div>
<div class="t" style="left:95.60px;top:442.00px;width:83.60px;height:22.10px;line-height:22.10px;font-size:12.5px;color:#333;-webkit-text-stroke:0.1px #333;">标准安装形式</div>
<div style="position:absolute;left:96.25px;top:464.75px;width:32.70px;height:20.60px;background:#fbeab9"></div>
<div class="t" style="left:95.60px;top:464.10px;width:34.00px;height:21.90px;line-height:21.90px;font-size:15px;color:#333;-webkit-text-stroke:0.1px #333;-webkit-text-stroke:0">W</div>
<div style="position:absolute;left:130.25px;top:464.75px;width:48.30px;height:20.60px;background:#fbeab9"></div>
<div class="t" style="left:129.60px;top:464.10px;width:49.60px;height:21.90px;line-height:21.90px;font-size:10px;color:#333;-webkit-text-stroke:0.1px #333;text-indent:-3px;letter-spacing:1px">脚板式</div>
<div style="position:absolute;left:96.25px;top:486.65px;width:32.70px;height:20.50px;background:#eec3dc"></div>
<div class="t" style="left:95.60px;top:486.00px;width:34.00px;height:21.80px;line-height:21.80px;font-size:15px;color:#333;-webkit-text-stroke:0.1px #333;-webkit-text-stroke:0">L</div>
<div style="position:absolute;left:130.25px;top:486.65px;width:48.30px;height:20.50px;background:#eec3dc"></div>
<div class="t" style="left:129.60px;top:486.00px;width:49.60px;height:21.80px;line-height:21.80px;font-size:10px;color:#333;-webkit-text-stroke:0.1px #333;text-indent:-3px;letter-spacing:1px">法兰式</div>
<div style="position:absolute;left:129.35px;top:525.35px;width:132.30px;height:83.30px;background:#737373"></div>
<div style="position:absolute;left:130.65px;top:526.65px;width:129.70px;height:18.70px;background:#a9d9f1"></div>
<div class="t" style="left:130.00px;top:526.00px;width:131.00px;height:20.00px;line-height:20.00px;font-size:13px;color:#2a2a2a;-webkit-text-stroke:0.1px #333;text-indent:8px;-webkit-text-stroke:0.1px #2a2a2a">减速级</div>
<div style="position:absolute;left:130.65px;top:546.65px;width:48.00px;height:20.40px;background:#fbeab9"></div>
<div class="t" style="left:130.00px;top:546.00px;width:49.30px;height:21.70px;line-height:21.70px;font-size:10px;color:#333;-webkit-text-stroke:0.1px #333;letter-spacing:0px;text-indent:-1px">（无标注）</div>
<div style="position:absolute;left:179.95px;top:546.65px;width:80.40px;height:20.40px;background:#fbeab9"></div>
<div class="t" style="left:179.30px;top:546.00px;width:81.70px;height:21.70px;line-height:21.70px;font-size:13px;color:#333;-webkit-text-stroke:0.1px #333;">一级减速</div>
<div style="position:absolute;left:130.65px;top:568.35px;width:48.00px;height:19.30px;background:#eec3dc"></div>
<div class="t" style="left:130.00px;top:567.70px;width:49.30px;height:20.60px;line-height:20.60px;font-size:13px;color:#333;-webkit-text-stroke:0.1px #333;text-indent:9px;-webkit-text-stroke:0">E</div>
<div style="position:absolute;left:179.95px;top:568.35px;width:80.40px;height:19.30px;background:#eec3dc"></div>
<div class="t" style="left:179.30px;top:567.70px;width:81.70px;height:20.60px;line-height:20.60px;font-size:13px;color:#333;-webkit-text-stroke:0.1px #333;">二级减速</div>
<div style="position:absolute;left:130.65px;top:588.95px;width:48.00px;height:18.40px;background:#fbeab9"></div>
<div class="t" style="left:130.00px;top:588.30px;width:49.30px;height:19.70px;line-height:19.70px;font-size:13px;color:#333;-webkit-text-stroke:0.1px #333;text-indent:9px;-webkit-text-stroke:0">S</div>
<div style="position:absolute;left:179.95px;top:588.95px;width:80.40px;height:18.40px;background:#fbeab9"></div>
<div class="t" style="left:179.30px;top:588.30px;width:81.70px;height:19.70px;line-height:19.70px;font-size:13px;color:#333;-webkit-text-stroke:0.1px #333;">三级减速</div>
<div style="position:absolute;left:342.15px;top:386.75px;width:65.70px;height:39.70px;background:#a9d9f1;border:1.3px solid #737373;box-sizing:border-box"></div>
<div class="t" style="left:342.80px;top:387.40px;width:64.40px;height:38.40px;line-height:38.40px;font-size:11.5px;color:#333;-webkit-text-stroke:0.1px #333;letter-spacing:1.5px;text-indent:1.5px;padding-top:2px;box-sizing:border-box">机型号</div>
<div style="position:absolute;left:454.35px;top:394.35px;width:58.30px;height:22.00px;background:#a9d9f1;border:1.3px solid #737373;box-sizing:border-box"></div>
<div class="t" style="left:455.00px;top:395.00px;width:57.00px;height:20.70px;line-height:20.70px;font-size:11.5px;color:#333;-webkit-text-stroke:0.1px #333;letter-spacing:1.5px;text-indent:1.5px;padding-top:2px;box-sizing:border-box">减速比</div>
<div style="position:absolute;left:551.35px;top:394.35px;width:59.00px;height:29.90px;background:#a9d9f1;border:1.3px solid #737373;box-sizing:border-box"></div>
<div class="t" style="left:552px;top:397px;width:57.7px;line-height:14.2px;font-size:11.5px;color:#333;letter-spacing:1px;-webkit-text-stroke:0.1px #333;">输入功率<br><span style="letter-spacing:2.2px;margin-left:1px">(直联型)</span></div>
<div style="position:absolute;left:550.35px;top:498.65px;width:112.30px;height:26.50px;background:#a9d9f1;border:1.3px solid #737373;box-sizing:border-box"></div>
<div class="t" style="left:551.00px;top:499.30px;width:111.00px;height:25.20px;line-height:25.20px;font-size:12px;color:#2a2a2a;-webkit-text-stroke:0.1px #333;letter-spacing:1.4px;text-indent:1.4px;-webkit-text-stroke:0.2px #2a2a2a;padding-top:2.5px;box-sizing:border-box">具体内容见下表</div>
<div style="position:absolute;left:297.05px;top:482.65px;width:231.90px;height:248.30px;background:#737373"></div>
<div style="position:absolute;left:298.35px;top:483.95px;width:229.30px;height:15.40px;background:#a9d9f1"></div>
<div class="t" style="left:297.70px;top:483.30px;width:230.60px;height:16.70px;line-height:16.70px;font-size:11.5px;color:#333;-webkit-text-stroke:0.1px #333;letter-spacing:1.1px">输入端联接规格补充</div>
<div style="position:absolute;left:298.35px;top:500.65px;width:28.40px;height:15.40px;background:#a9d9f1"></div>
<div class="t" style="left:297.70px;top:500.00px;width:29.70px;height:16.70px;line-height:16.70px;font-size:10.3px;color:#2a2a2a;-webkit-text-stroke:0.1px #333;padding-left:0.5px;padding-top:1.5px;box-sizing:border-box">A</div>
<div style="position:absolute;left:328.05px;top:500.65px;width:199.60px;height:15.40px;background:#fbeab9"></div>
<div class="t" style="left:338.4px;top:501.20px;height:16.70px;line-height:16.70px;font-size:10.5px;color:#2a2a2a;letter-spacing:2px;text-align:left;-webkit-text-stroke:0.1px #333;"><span style="font-size:10.3px;letter-spacing:0.1px;margin-right:5.0px">YA</span>系列增安型电动机</div>
<div style="position:absolute;left:298.35px;top:517.35px;width:28.40px;height:15.30px;background:#a9d9f1"></div>
<div class="t" style="left:297.70px;top:516.70px;width:29.70px;height:16.60px;line-height:16.60px;font-size:10.3px;color:#2a2a2a;-webkit-text-stroke:0.1px #333;padding-left:0.5px;padding-top:1.5px;box-sizing:border-box">B</div>
<div style="position:absolute;left:328.05px;top:517.35px;width:199.60px;height:15.30px;background:#eec3dc"></div>
<div class="t" style="left:338.4px;top:517.90px;height:16.60px;line-height:16.60px;font-size:10.5px;color:#2a2a2a;letter-spacing:2px;text-align:left;-webkit-text-stroke:0.1px #333;"><span style="font-size:10.3px;letter-spacing:0.1px;margin-right:5.0px">YB</span>系列隔爆型电动机</div>
<div style="position:absolute;left:298.35px;top:533.95px;width:28.40px;height:15.40px;background:#a9d9f1"></div>
<div class="t" style="left:297.70px;top:533.30px;width:29.70px;height:16.70px;line-height:16.70px;font-size:10.3px;color:#2a2a2a;-webkit-text-stroke:0.1px #333;padding-left:0.5px;padding-top:1.5px;box-sizing:border-box">D</div>
<div style="position:absolute;left:328.05px;top:533.95px;width:199.60px;height:15.40px;background:#fbeab9"></div>
<div class="t" style="left:338.4px;top:534.50px;height:16.70px;line-height:16.70px;font-size:10.5px;color:#2a2a2a;letter-spacing:2px;text-align:left;-webkit-text-stroke:0.1px #333;"><span style="font-size:10.3px;letter-spacing:0.1px;margin-right:3.2px">Y</span>系列普通型电动机</div>
<div style="position:absolute;left:298.35px;top:550.65px;width:28.40px;height:15.10px;background:#a9d9f1"></div>
<div class="t" style="left:297.70px;top:550.00px;width:29.70px;height:16.40px;line-height:16.40px;font-size:10.3px;color:#2a2a2a;-webkit-text-stroke:0.1px #333;padding-left:0.5px;padding-top:1.5px;box-sizing:border-box">P</div>
<div style="position:absolute;left:328.05px;top:550.65px;width:199.60px;height:15.10px;background:#eec3dc"></div>
<div class="t" style="left:338.4px;top:551.20px;height:16.40px;line-height:16.40px;font-size:10.5px;color:#2a2a2a;letter-spacing:2px;text-align:left;-webkit-text-stroke:0.1px #333;"><span style="font-size:10.3px;letter-spacing:0.1px;margin-right:7.5px">YEJ</span>系列内制动型电动机</div>
<div style="position:absolute;left:298.35px;top:567.05px;width:28.40px;height:15.40px;background:#a9d9f1"></div>
<div class="t" style="left:297.70px;top:566.40px;width:29.70px;height:16.70px;line-height:16.70px;font-size:10.3px;color:#2a2a2a;-webkit-text-stroke:0.1px #333;padding-left:0.5px;padding-top:1.5px;box-sizing:border-box">T</div>
<div style="position:absolute;left:328.05px;top:567.05px;width:199.60px;height:15.40px;background:#fbeab9"></div>
<div class="t" style="left:338.4px;top:567.60px;height:16.70px;line-height:16.70px;font-size:10.5px;color:#2a2a2a;letter-spacing:2px;text-align:left;-webkit-text-stroke:0.1px #333;"><span style="font-size:10.3px;letter-spacing:0.1px;margin-right:6.0px">YCT</span>系列电磁调速型电动机</div>
<div style="position:absolute;left:298.35px;top:583.75px;width:28.40px;height:15.30px;background:#a9d9f1"></div>
<div class="t" style="left:297.70px;top:583.10px;width:29.70px;height:16.60px;line-height:16.60px;font-size:10.3px;color:#2a2a2a;-webkit-text-stroke:0.1px #333;padding-left:0.5px;padding-top:1.5px;box-sizing:border-box">K</div>
<div style="position:absolute;left:328.05px;top:583.75px;width:199.60px;height:15.30px;background:#eec3dc"></div>
<div class="t" style="left:338.4px;top:584.30px;height:16.60px;line-height:16.60px;font-size:10.5px;color:#2a2a2a;letter-spacing:2px;text-align:left;-webkit-text-stroke:0.1px #333;"><span style="font-size:10.3px;letter-spacing:0.1px;margin-right:6.4px">YD</span>系列多速型电动机</div>
<div style="position:absolute;left:298.35px;top:600.35px;width:28.40px;height:15.00px;background:#a9d9f1"></div>
<div class="t" style="left:297.70px;top:599.70px;width:29.70px;height:16.30px;line-height:16.30px;font-size:10.3px;color:#2a2a2a;-webkit-text-stroke:0.1px #333;padding-left:0.5px;padding-top:1.5px;box-sizing:border-box">I</div>
<div style="position:absolute;left:328.05px;top:600.35px;width:199.60px;height:15.00px;background:#fbeab9"></div>
<div class="t" style="left:338.4px;top:600.90px;height:16.30px;line-height:16.30px;font-size:10.5px;color:#2a2a2a;letter-spacing:2px;text-align:left;-webkit-text-stroke:0.1px #333;"><span style="font-size:10.3px;letter-spacing:0.1px;margin-right:6.4px">IEC</span>系列电动机</div>
<div style="position:absolute;left:298.35px;top:616.65px;width:28.40px;height:15.10px;background:#a9d9f1"></div>
<div class="t" style="left:297.70px;top:616.00px;width:29.70px;height:16.40px;line-height:16.40px;font-size:10.3px;color:#2a2a2a;-webkit-text-stroke:0.1px #333;padding-left:0.5px;padding-top:1.5px;box-sizing:border-box">Q</div>
<div style="position:absolute;left:328.05px;top:616.65px;width:199.60px;height:15.10px;background:#eec3dc"></div>
<div class="t" style="left:338.4px;top:617.20px;height:16.40px;line-height:16.40px;font-size:10.5px;color:#2a2a2a;letter-spacing:2px;text-align:left;-webkit-text-stroke:0.1px #333;"><span style="font-size:10.3px;letter-spacing:0.1px;margin-right:3.2px">YZ</span>系列起重电动机</div>
<div style="position:absolute;left:298.35px;top:633.05px;width:28.40px;height:15.20px;background:#a9d9f1"></div>
<div class="t" style="left:297.70px;top:632.40px;width:29.70px;height:16.50px;line-height:16.50px;font-size:10.3px;color:#2a2a2a;-webkit-text-stroke:0.1px #333;padding-left:0.5px;padding-top:1.5px;box-sizing:border-box">Z</div>
<div style="position:absolute;left:328.05px;top:633.05px;width:199.60px;height:15.20px;background:#fbeab9"></div>
<div class="t" style="left:336px;top:633.60px;height:16.50px;line-height:16.50px;font-size:10.5px;color:#2a2a2a;letter-spacing:2px;text-align:left;-webkit-text-stroke:0.1px #333;">直流电动机</div>
<div style="position:absolute;left:298.35px;top:649.55px;width:28.40px;height:15.30px;background:#a9d9f1"></div>
<div class="t" style="left:297.70px;top:648.90px;width:29.70px;height:16.60px;line-height:16.60px;font-size:10.3px;color:#2a2a2a;-webkit-text-stroke:0.1px #333;padding-left:0.5px;padding-top:1.5px;box-sizing:border-box">S</div>
<div style="position:absolute;left:328.05px;top:649.55px;width:199.60px;height:15.30px;background:#eec3dc"></div>
<div class="t" style="left:336px;top:650.10px;height:16.60px;line-height:16.60px;font-size:10.5px;color:#2a2a2a;letter-spacing:2px;text-align:left;-webkit-text-stroke:0.1px #333;">伺服电动机</div>
<div style="position:absolute;left:298.35px;top:666.15px;width:28.40px;height:15.20px;background:#a9d9f1"></div>
<div class="t" style="left:297.70px;top:665.50px;width:29.70px;height:16.50px;line-height:16.50px;font-size:10.3px;color:#2a2a2a;-webkit-text-stroke:0.1px #333;padding-left:0.5px;padding-top:1.5px;box-sizing:border-box">N</div>
<div style="position:absolute;left:328.05px;top:666.15px;width:199.60px;height:15.20px;background:#fbeab9"></div>
<div class="t" style="left:336px;top:666.70px;height:16.50px;line-height:16.50px;font-size:10.5px;color:#2a2a2a;letter-spacing:2px;text-align:left;-webkit-text-stroke:0.1px #333;"><span style="font-size:10.3px;letter-spacing:0.1px;margin-right:2.0px">ZD</span>型锥形转子制动电动机</div>
<div style="position:absolute;left:298.35px;top:682.65px;width:28.40px;height:14.90px;background:#a9d9f1"></div>
<div class="t" style="left:297.70px;top:682.00px;width:29.70px;height:16.20px;line-height:16.20px;font-size:10.3px;color:#2a2a2a;-webkit-text-stroke:0.1px #333;padding-left:0.5px;padding-top:1.5px;box-sizing:border-box">V</div>
<div style="position:absolute;left:328.05px;top:682.65px;width:199.60px;height:14.90px;background:#eec3dc"></div>
<div class="t" style="left:336px;top:683.20px;height:16.20px;line-height:16.20px;font-size:10.5px;color:#2a2a2a;letter-spacing:2px;text-align:left;-webkit-text-stroke:0.1px #333;">变频调速电动机</div>
<div style="position:absolute;left:298.35px;top:698.85px;width:28.40px;height:15.30px;background:#a9d9f1"></div>
<div class="t" style="left:297.70px;top:698.20px;width:29.70px;height:16.60px;line-height:16.60px;font-size:10.3px;color:#2a2a2a;-webkit-text-stroke:0.1px #333;padding-left:0.5px;padding-top:1.5px;box-sizing:border-box">J</div>
<div style="position:absolute;left:328.05px;top:698.85px;width:199.60px;height:15.30px;background:#fbeab9"></div>
<div class="t" style="left:336px;top:699.40px;height:16.60px;line-height:16.60px;font-size:10.5px;color:#2a2a2a;letter-spacing:2px;text-align:left;-webkit-text-stroke:0.1px #333;">步进电机</div>
<div style="position:absolute;left:298.35px;top:715.45px;width:28.40px;height:14.20px;background:#a9d9f1"></div>
<div class="t" style="left:297.70px;top:714.80px;width:29.70px;height:15.50px;line-height:15.50px;font-size:10.3px;color:#2a2a2a;-webkit-text-stroke:0.1px #333;padding-left:0.5px;padding-top:1.5px;box-sizing:border-box">Y</div>
<div style="position:absolute;left:328.05px;top:715.45px;width:199.60px;height:14.20px;background:#eec3dc"></div>
<div class="t" style="left:336.5px;top:716.00px;height:15.50px;line-height:15.50px;font-size:10.5px;color:#2a2a2a;letter-spacing:2px;text-align:left;-webkit-text-stroke:0.1px #333;"><span style="font-size:10.3px;letter-spacing:0.1px;margin-right:4.8px">Y</span>系列摆线减速机专用普通电机</div>
<div style="position:absolute;left:557.95px;top:607.15px;width:159.10px;height:124.50px;background:#737373"></div>
<div style="position:absolute;left:559.25px;top:608.45px;width:156.50px;height:15.90px;background:#a9d9f1"></div>
<div class="t" style="left:558.60px;top:607.80px;width:157.80px;height:17.20px;line-height:17.20px;font-size:11.5px;color:#2a2a2a;-webkit-text-stroke:0.1px #333;letter-spacing:0px;text-indent:5px;padding-top:1px;box-sizing:border-box;-webkit-text-stroke:0.25px #2a2a2a">其它安装形式</div>
<div style="position:absolute;left:559.25px;top:625.65px;width:51.20px;height:16.00px;background:#fbeab9"></div>
<div class="t" style="left:558.60px;top:625.00px;width:52.50px;height:17.30px;line-height:17.30px;font-size:11px;color:#333;-webkit-text-stroke:0.1px #333;">D</div>
<div style="position:absolute;left:611.75px;top:625.65px;width:51.00px;height:16.00px;background:#fbeab9"></div>
<div class="t" style="left:611.10px;top:625.00px;width:52.30px;height:17.30px;line-height:17.30px;font-size:12px;color:#333;-webkit-text-stroke:0.1px #333;">倒装</div>
<div style="position:absolute;left:559.25px;top:642.95px;width:25.30px;height:34.40px;background:#eec3dc"></div>
<div class="t" style="left:558.60px;top:642.30px;width:26.60px;height:35.70px;line-height:35.70px;font-size:11px;color:#333;-webkit-text-stroke:0.1px #333;">C</div>
<div style="position:absolute;left:585.85px;top:642.95px;width:24.60px;height:16.70px;background:#eec3dc"></div>
<div class="t" style="left:585.20px;top:642.30px;width:25.90px;height:18.00px;line-height:18.00px;font-size:11px;color:#333;-webkit-text-stroke:0.1px #333;">C1</div>
<div style="position:absolute;left:611.75px;top:642.95px;width:51.00px;height:16.70px;background:#eec3dc"></div>
<div class="t" style="left:611.10px;top:642.30px;width:52.30px;height:18.00px;line-height:18.00px;font-size:12px;color:#333;-webkit-text-stroke:0.1px #333;">左侧装</div>
<div style="position:absolute;left:585.85px;top:660.95px;width:24.60px;height:16.40px;background:#eec3dc"></div>
<div class="t" style="left:585.20px;top:660.30px;width:25.90px;height:17.70px;line-height:17.70px;font-size:11px;color:#333;-webkit-text-stroke:0.1px #333;">C2</div>
<div style="position:absolute;left:611.75px;top:660.95px;width:51.00px;height:16.40px;background:#eec3dc"></div>
<div class="t" style="left:611.10px;top:660.30px;width:52.30px;height:17.70px;line-height:17.70px;font-size:12px;color:#333;-webkit-text-stroke:0.1px #333;">右侧装</div>
<div style="position:absolute;left:559.25px;top:678.65px;width:51.20px;height:16.30px;background:#fbeab9"></div>
<div class="t" style="left:558.60px;top:678.00px;width:52.50px;height:17.60px;line-height:17.60px;font-size:11px;color:#333;-webkit-text-stroke:0.1px #333;">L</div>
<div style="position:absolute;left:611.75px;top:678.65px;width:51.00px;height:16.30px;background:#fbeab9"></div>
<div class="t" style="left:611.10px;top:678.00px;width:52.30px;height:17.60px;line-height:17.60px;font-size:12px;color:#333;-webkit-text-stroke:0.1px #333;">立装</div>
<div style="position:absolute;left:559.25px;top:696.25px;width:51.20px;height:15.90px;background:#eec3dc"></div>
<div class="t" style="left:558.60px;top:695.60px;width:52.50px;height:17.20px;line-height:17.20px;font-size:11px;color:#333;-webkit-text-stroke:0.1px #333;">Y</div>
<div style="position:absolute;left:611.75px;top:696.25px;width:51.00px;height:15.90px;background:#eec3dc"></div>
<div class="t" style="left:611.10px;top:695.60px;width:52.30px;height:17.20px;line-height:17.20px;font-size:12px;color:#333;-webkit-text-stroke:0.1px #333;">仰装</div>
<div style="position:absolute;left:559.25px;top:713.45px;width:51.20px;height:16.90px;background:#fbeab9"></div>
<div class="t" style="left:558.60px;top:712.80px;width:52.50px;height:18.20px;line-height:18.20px;font-size:11px;color:#333;-webkit-text-stroke:0.1px #333;">W</div>
<div style="position:absolute;left:611.75px;top:713.45px;width:51.00px;height:16.90px;background:#fbeab9"></div>
<div class="t" style="left:611.10px;top:712.80px;width:52.30px;height:18.20px;line-height:18.20px;font-size:12px;color:#333;-webkit-text-stroke:0.1px #333;">卧装</div>
<div style="position:absolute;left:664.05px;top:625.65px;width:51.70px;height:104.70px;background:#fbeab9"></div>
<div class="t" style="left:666px;top:640.5px;line-height:19.2px;font-size:11.2px;color:#333;letter-spacing:0.6px;text-align:left;-webkit-text-stroke:0.1px #333;">详细内容<br>见第 3 页<br>其它安装<br>形式</div>
<div style="position:absolute;left:18.55px;top:747.95px;width:712.70px;height:211.80px;background:#2a2a2a"></div>
<div style="position:absolute;left:20.00px;top:749.40px;width:709.80px;height:44.70px;background:#a9d9ef"></div>
<div class="t" style="left:19.30px;top:748.70px;width:711.20px;height:46.10px;line-height:46.10px;font-size:23px;color:#111;letter-spacing:2.6px;text-indent:4.6px;-webkit-text-stroke:0.35px #111">单级减速比</div>
<div style="position:absolute;left:20.00px;top:795.50px;width:69.72px;height:21.80px;background:#f8e9c6"></div>
<div class="t" style="left:19.30px;top:794.80px;width:71.12px;height:23.20px;line-height:23.20px;font-size:18px;color:#111;letter-spacing:1.1px;text-indent:1.1px;padding-top:1.5px;box-sizing:border-box">9</div>
<div style="position:absolute;left:91.12px;top:795.50px;width:69.72px;height:21.80px;background:#f8e9c6"></div>
<div class="t" style="left:90.42px;top:794.80px;width:71.12px;height:23.20px;line-height:23.20px;font-size:18px;color:#111;letter-spacing:1.1px;text-indent:1.1px;padding-top:1.5px;box-sizing:border-box">11</div>
<div style="position:absolute;left:162.24px;top:795.50px;width:69.72px;height:21.80px;background:#f8e9c6"></div>
<div class="t" style="left:161.54px;top:794.80px;width:71.12px;height:23.20px;line-height:23.20px;font-size:18px;color:#111;letter-spacing:1.1px;text-indent:1.1px;padding-top:1.5px;box-sizing:border-box">17</div>
<div style="position:absolute;left:233.36px;top:795.50px;width:69.72px;height:21.80px;background:#f8e9c6"></div>
<div class="t" style="left:232.66px;top:794.80px;width:71.12px;height:23.20px;line-height:23.20px;font-size:18px;color:#111;letter-spacing:1.1px;text-indent:1.1px;padding-top:1.5px;box-sizing:border-box">23</div>
<div style="position:absolute;left:304.48px;top:795.50px;width:69.72px;height:21.80px;background:#f8e9c6"></div>
<div class="t" style="left:303.78px;top:794.80px;width:71.12px;height:23.20px;line-height:23.20px;font-size:18px;color:#111;letter-spacing:1.1px;text-indent:1.1px;padding-top:1.5px;box-sizing:border-box">29</div>
<div style="position:absolute;left:375.60px;top:795.50px;width:69.72px;height:21.80px;background:#f8e9c6"></div>
<div class="t" style="left:374.90px;top:794.80px;width:71.12px;height:23.20px;line-height:23.20px;font-size:18px;color:#111;letter-spacing:1.1px;text-indent:1.1px;padding-top:1.5px;box-sizing:border-box">35</div>
<div style="position:absolute;left:446.72px;top:795.50px;width:69.72px;height:21.80px;background:#f8e9c6"></div>
<div class="t" style="left:446.02px;top:794.80px;width:71.12px;height:23.20px;line-height:23.20px;font-size:18px;color:#111;letter-spacing:1.1px;text-indent:1.1px;padding-top:1.5px;box-sizing:border-box">43</div>
<div style="position:absolute;left:517.84px;top:795.50px;width:69.72px;height:21.80px;background:#f8e9c6"></div>
<div class="t" style="left:517.14px;top:794.80px;width:71.12px;height:23.20px;line-height:23.20px;font-size:18px;color:#111;letter-spacing:1.1px;text-indent:1.1px;padding-top:1.5px;box-sizing:border-box">59</div>
<div style="position:absolute;left:588.96px;top:795.50px;width:69.72px;height:21.80px;background:#f8e9c6"></div>
<div class="t" style="left:588.26px;top:794.80px;width:71.12px;height:23.20px;line-height:23.20px;font-size:18px;color:#111;letter-spacing:1.1px;text-indent:1.1px;padding-top:1.5px;box-sizing:border-box">71</div>
<div style="position:absolute;left:660.08px;top:795.50px;width:69.72px;height:21.80px;background:#f8e9c6"></div>
<div class="t" style="left:659.38px;top:794.80px;width:71.12px;height:23.20px;line-height:23.20px;font-size:18px;color:#111;letter-spacing:1.1px;text-indent:1.1px;padding-top:1.5px;box-sizing:border-box">87</div>
<div style="position:absolute;left:20.00px;top:818.70px;width:709.80px;height:44.90px;background:#a9d9ef"></div>
<div class="t" style="left:19.30px;top:818.00px;width:711.20px;height:46.30px;line-height:46.30px;font-size:23px;color:#111;letter-spacing:2.6px;text-indent:4.6px;-webkit-text-stroke:0.35px #111">二级减速比</div>
<div style="position:absolute;left:20.00px;top:865.00px;width:69.72px;height:21.90px;background:#f8e9c6"></div>
<div class="t" style="left:19.30px;top:864.30px;width:71.12px;height:23.30px;line-height:23.30px;font-size:18px;color:#111;letter-spacing:1.1px;text-indent:1.1px;padding-top:1.5px;box-sizing:border-box">99</div>
<div style="position:absolute;left:91.12px;top:865.00px;width:69.72px;height:21.90px;background:#f8e9c6"></div>
<div class="t" style="left:90.42px;top:864.30px;width:71.12px;height:23.30px;line-height:23.30px;font-size:18px;color:#111;letter-spacing:1.1px;text-indent:1.1px;padding-top:1.5px;box-sizing:border-box">121</div>
<div style="position:absolute;left:162.24px;top:865.00px;width:69.72px;height:21.90px;background:#f8e9c6"></div>
<div class="t" style="left:161.54px;top:864.30px;width:71.12px;height:23.30px;line-height:23.30px;font-size:18px;color:#111;letter-spacing:1.1px;text-indent:1.1px;padding-top:1.5px;box-sizing:border-box">187</div>
<div style="position:absolute;left:233.36px;top:865.00px;width:69.72px;height:21.90px;background:#f8e9c6"></div>
<div class="t" style="left:232.66px;top:864.30px;width:71.12px;height:23.30px;line-height:23.30px;font-size:18px;color:#111;letter-spacing:1.1px;text-indent:1.1px;padding-top:1.5px;box-sizing:border-box">289</div>
<div style="position:absolute;left:304.48px;top:865.00px;width:69.72px;height:21.90px;background:#f8e9c6"></div>
<div class="t" style="left:303.78px;top:864.30px;width:71.12px;height:23.30px;line-height:23.30px;font-size:18px;color:#111;letter-spacing:1.1px;text-indent:1.1px;padding-top:1.5px;box-sizing:border-box">391</div>
<div style="position:absolute;left:375.60px;top:865.00px;width:69.72px;height:21.90px;background:#f8e9c6"></div>
<div class="t" style="left:374.90px;top:864.30px;width:71.12px;height:23.30px;line-height:23.30px;font-size:18px;color:#111;letter-spacing:1.1px;text-indent:1.1px;padding-top:1.5px;box-sizing:border-box">493</div>
<div style="position:absolute;left:446.72px;top:865.00px;width:69.72px;height:21.90px;background:#f8e9c6"></div>
<div class="t" style="left:446.02px;top:864.30px;width:71.12px;height:23.30px;line-height:23.30px;font-size:18px;color:#111;letter-spacing:1.1px;text-indent:1.1px;padding-top:1.5px;box-sizing:border-box">595</div>
<div style="position:absolute;left:517.84px;top:865.00px;width:69.72px;height:21.90px;background:#f8e9c6"></div>
<div class="t" style="left:517.14px;top:864.30px;width:71.12px;height:23.30px;line-height:23.30px;font-size:18px;color:#111;letter-spacing:1.1px;text-indent:1.1px;padding-top:1.5px;box-sizing:border-box">731</div>
<div style="position:absolute;left:588.96px;top:865.00px;width:69.72px;height:21.90px;background:#f8e9c6"></div>
<div class="t" style="left:588.26px;top:864.30px;width:71.12px;height:23.30px;line-height:23.30px;font-size:18px;color:#111;letter-spacing:1.1px;text-indent:1.1px;padding-top:1.5px;box-sizing:border-box">841</div>
<div style="position:absolute;left:660.08px;top:865.00px;width:69.72px;height:21.90px;background:#f8e9c6"></div>
<div class="t" style="left:659.38px;top:864.30px;width:71.12px;height:23.30px;line-height:23.30px;font-size:18px;color:#111;letter-spacing:1.1px;text-indent:1.1px;padding-top:1.5px;box-sizing:border-box">1003</div>
<div style="position:absolute;left:20.00px;top:888.30px;width:69.72px;height:22.90px;background:#a9d9ef"></div>
<div class="t" style="left:19.30px;top:887.60px;width:71.12px;height:24.30px;line-height:24.30px;font-size:18px;color:#111;letter-spacing:1.1px;text-indent:1.1px;padding-top:1.5px;box-sizing:border-box">11x9</div>
<div style="position:absolute;left:91.12px;top:888.30px;width:69.72px;height:22.90px;background:#a9d9ef"></div>
<div class="t" style="left:90.42px;top:887.60px;width:71.12px;height:24.30px;line-height:24.30px;font-size:18px;color:#111;letter-spacing:1.1px;text-indent:1.1px;padding-top:1.5px;box-sizing:border-box">11x11</div>
<div style="position:absolute;left:162.24px;top:888.30px;width:69.72px;height:22.90px;background:#a9d9ef"></div>
<div class="t" style="left:161.54px;top:887.60px;width:71.12px;height:24.30px;line-height:24.30px;font-size:18px;color:#111;letter-spacing:1.1px;text-indent:1.1px;padding-top:1.5px;box-sizing:border-box">17x11</div>
<div style="position:absolute;left:233.36px;top:888.30px;width:69.72px;height:22.90px;background:#a9d9ef"></div>
<div class="t" style="left:232.66px;top:887.60px;width:71.12px;height:24.30px;line-height:24.30px;font-size:18px;color:#111;letter-spacing:1.1px;text-indent:1.1px;padding-top:1.5px;box-sizing:border-box">17x17</div>
<div style="position:absolute;left:304.48px;top:888.30px;width:69.72px;height:22.90px;background:#a9d9ef"></div>
<div class="t" style="left:303.78px;top:887.60px;width:71.12px;height:24.30px;line-height:24.30px;font-size:18px;color:#111;letter-spacing:1.1px;text-indent:1.1px;padding-top:1.5px;box-sizing:border-box">23x17</div>
<div style="position:absolute;left:375.60px;top:888.30px;width:69.72px;height:22.90px;background:#a9d9ef"></div>
<div class="t" style="left:374.90px;top:887.60px;width:71.12px;height:24.30px;line-height:24.30px;font-size:18px;color:#111;letter-spacing:1.1px;text-indent:1.1px;padding-top:1.5px;box-sizing:border-box">29x17</div>
<div style="position:absolute;left:446.72px;top:888.30px;width:69.72px;height:22.90px;background:#a9d9ef"></div>
<div class="t" style="left:446.02px;top:887.60px;width:71.12px;height:24.30px;line-height:24.30px;font-size:18px;color:#111;letter-spacing:1.1px;text-indent:1.1px;padding-top:1.5px;box-sizing:border-box">35x17</div>
<div style="position:absolute;left:517.84px;top:888.30px;width:69.72px;height:22.90px;background:#a9d9ef"></div>
<div class="t" style="left:517.14px;top:887.60px;width:71.12px;height:24.30px;line-height:24.30px;font-size:18px;color:#111;letter-spacing:1.1px;text-indent:1.1px;padding-top:1.5px;box-sizing:border-box">43x17</div>
<div style="position:absolute;left:588.96px;top:888.30px;width:69.72px;height:22.90px;background:#a9d9ef"></div>
<div class="t" style="left:588.26px;top:887.60px;width:71.12px;height:24.30px;line-height:24.30px;font-size:18px;color:#111;letter-spacing:1.1px;text-indent:1.1px;padding-top:1.5px;box-sizing:border-box">29x29</div>
<div style="position:absolute;left:660.08px;top:888.30px;width:69.72px;height:22.90px;background:#a9d9ef"></div>
<div class="t" style="left:659.38px;top:887.60px;width:71.12px;height:24.30px;line-height:24.30px;font-size:18px;color:#111;letter-spacing:1.1px;text-indent:1.1px;padding-top:1.5px;box-sizing:border-box">59x17</div>
<div style="position:absolute;left:20.00px;top:912.60px;width:69.72px;height:22.30px;background:#f8e9c6"></div>
<div class="t" style="left:19.30px;top:911.90px;width:71.12px;height:23.70px;line-height:23.70px;font-size:18px;color:#111;letter-spacing:1.1px;text-indent:1.1px;padding-top:1.5px;box-sizing:border-box">1225</div>
<div style="position:absolute;left:91.12px;top:912.60px;width:69.72px;height:22.30px;background:#f8e9c6"></div>
<div class="t" style="left:90.42px;top:911.90px;width:71.12px;height:23.70px;line-height:23.70px;font-size:18px;color:#111;letter-spacing:1.1px;text-indent:1.1px;padding-top:1.5px;box-sizing:border-box">1505</div>
<div style="position:absolute;left:162.24px;top:912.60px;width:69.72px;height:22.30px;background:#f8e9c6"></div>
<div class="t" style="left:161.54px;top:911.90px;width:71.12px;height:23.70px;line-height:23.70px;font-size:18px;color:#111;letter-spacing:1.1px;text-indent:1.1px;padding-top:1.5px;box-sizing:border-box">1849</div>
<div style="position:absolute;left:233.36px;top:912.60px;width:69.72px;height:22.30px;background:#f8e9c6"></div>
<div class="t" style="left:232.66px;top:911.90px;width:71.12px;height:23.70px;line-height:23.70px;font-size:18px;color:#111;letter-spacing:1.1px;text-indent:1.1px;padding-top:1.5px;box-sizing:border-box">2065</div>
<div style="position:absolute;left:304.48px;top:912.60px;width:69.72px;height:22.30px;background:#f8e9c6"></div>
<div class="t" style="left:303.78px;top:911.90px;width:71.12px;height:23.70px;line-height:23.70px;font-size:18px;color:#111;letter-spacing:1.1px;text-indent:1.1px;padding-top:1.5px;box-sizing:border-box">2537</div>
<div style="position:absolute;left:375.60px;top:912.60px;width:69.72px;height:22.30px;background:#f8e9c6"></div>
<div class="t" style="left:374.90px;top:911.90px;width:71.12px;height:23.70px;line-height:23.70px;font-size:18px;color:#111;letter-spacing:1.1px;text-indent:1.1px;padding-top:1.5px;box-sizing:border-box">3481</div>
<div style="position:absolute;left:446.72px;top:912.60px;width:69.72px;height:22.30px;background:#f8e9c6"></div>
<div class="t" style="left:446.02px;top:911.90px;width:71.12px;height:23.70px;line-height:23.70px;font-size:18px;color:#111;letter-spacing:1.1px;text-indent:1.1px;padding-top:1.5px;box-sizing:border-box">4189</div>
<div style="position:absolute;left:517.84px;top:912.60px;width:69.72px;height:22.30px;background:#f8e9c6"></div>
<div class="t" style="left:517.14px;top:911.90px;width:71.12px;height:23.70px;line-height:23.70px;font-size:18px;color:#111;letter-spacing:1.1px;text-indent:1.1px;padding-top:1.5px;box-sizing:border-box">5133</div>
<div style="position:absolute;left:588.96px;top:912.60px;width:69.72px;height:22.30px;background:#f8e9c6"></div>
<div class="t" style="left:588.26px;top:911.90px;width:71.12px;height:23.70px;line-height:23.70px;font-size:18px;color:#111;letter-spacing:1.1px;text-indent:1.1px;padding-top:1.5px;box-sizing:border-box">7569</div>
<div style="position:absolute;left:660.08px;top:912.60px;width:69.72px;height:22.30px;background:#f8e9c6"></div>
<div style="position:absolute;left:20.00px;top:936.30px;width:69.72px;height:22.00px;background:#a9d9ef"></div>
<div class="t" style="left:19.30px;top:935.60px;width:71.12px;height:23.40px;line-height:23.40px;font-size:18px;color:#111;letter-spacing:1.1px;text-indent:1.1px;padding-top:1.5px;box-sizing:border-box">35x35</div>
<div style="position:absolute;left:91.12px;top:936.30px;width:69.72px;height:22.00px;background:#a9d9ef"></div>
<div class="t" style="left:90.42px;top:935.60px;width:71.12px;height:23.40px;line-height:23.40px;font-size:18px;color:#111;letter-spacing:1.1px;text-indent:1.1px;padding-top:1.5px;box-sizing:border-box">43x35</div>
<div style="position:absolute;left:162.24px;top:936.30px;width:69.72px;height:22.00px;background:#a9d9ef"></div>
<div class="t" style="left:161.54px;top:935.60px;width:71.12px;height:23.40px;line-height:23.40px;font-size:18px;color:#111;letter-spacing:1.1px;text-indent:1.1px;padding-top:1.5px;box-sizing:border-box">43x43</div>
<div style="position:absolute;left:233.36px;top:936.30px;width:69.72px;height:22.00px;background:#a9d9ef"></div>
<div class="t" style="left:232.66px;top:935.60px;width:71.12px;height:23.40px;line-height:23.40px;font-size:18px;color:#111;letter-spacing:1.1px;text-indent:1.1px;padding-top:1.5px;box-sizing:border-box">59x35</div>
<div style="position:absolute;left:304.48px;top:936.30px;width:69.72px;height:22.00px;background:#a9d9ef"></div>
<div class="t" style="left:303.78px;top:935.60px;width:71.12px;height:23.40px;line-height:23.40px;font-size:18px;color:#111;letter-spacing:1.1px;text-indent:1.1px;padding-top:1.5px;box-sizing:border-box">59x43</div>
<div style="position:absolute;left:375.60px;top:936.30px;width:69.72px;height:22.00px;background:#a9d9ef"></div>
<div class="t" style="left:374.90px;top:935.60px;width:71.12px;height:23.40px;line-height:23.40px;font-size:18px;color:#111;letter-spacing:1.1px;text-indent:1.1px;padding-top:1.5px;box-sizing:border-box">59x59</div>
<div style="position:absolute;left:446.72px;top:936.30px;width:69.72px;height:22.00px;background:#a9d9ef"></div>
<div class="t" style="left:446.02px;top:935.60px;width:71.12px;height:23.40px;line-height:23.40px;font-size:18px;color:#111;letter-spacing:1.1px;text-indent:1.1px;padding-top:1.5px;box-sizing:border-box">71x59</div>
<div style="position:absolute;left:517.84px;top:936.30px;width:69.72px;height:22.00px;background:#a9d9ef"></div>
<div class="t" style="left:517.14px;top:935.60px;width:71.12px;height:23.40px;line-height:23.40px;font-size:18px;color:#111;letter-spacing:1.1px;text-indent:1.1px;padding-top:1.5px;box-sizing:border-box">87x59</div>
<div style="position:absolute;left:588.96px;top:936.30px;width:69.72px;height:22.00px;background:#a9d9ef"></div>
<div class="t" style="left:588.26px;top:935.60px;width:71.12px;height:23.40px;line-height:23.40px;font-size:18px;color:#111;letter-spacing:1.1px;text-indent:1.1px;padding-top:1.5px;box-sizing:border-box">87x87</div>
<div style="position:absolute;left:660.08px;top:936.30px;width:69.72px;height:22.00px;background:#a9d9ef"></div>
<div class="t" style="left:21px;top:973px;height:24px;line-height:24px;font-size:21px;font-weight:bold;color:#1d55a6;letter-spacing:1.1px">更多型号、传动比请联系客服, 咨询热线:<span style="letter-spacing:0.1px">15295090557</span></div>
</body></html>
